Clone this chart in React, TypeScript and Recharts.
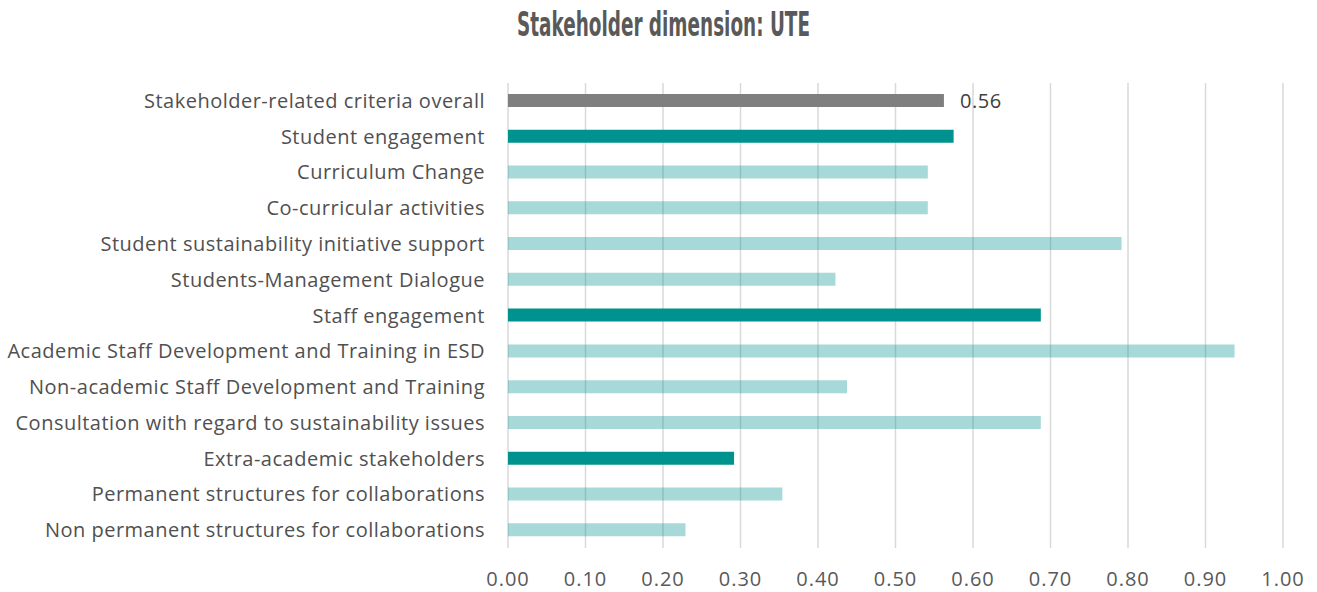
import React from "react";
import { BarChart, Bar, XAxis, YAxis, CartesianGrid, Cell, LabelList } from "recharts";

const categories = [
  "Stakeholder-related criteria overall",
  "Student engagement",
  "Curriculum Change",
  "Co-curricular activities",
  "Student sustainability initiative support",
  "Students-Management Dialogue",
  "Staff engagement",
  "Academic Staff Development and Training in ESD",
  "Non-academic Staff Development and Training",
  "Consultation with regard to sustainability issues",
  "Extra-academic stakeholders",
  "Permanent structures for collaborations",
  "Non permanent structures for collaborations",
];
const values = [0.5625, 0.575, 0.5417, 0.5417, 0.7917, 0.4225, 0.6875, 0.9375, 0.4375, 0.6875, 0.2917, 0.354, 0.229];
// level: 0 overall, 1 group, 2 sub-criterion
const levels = [0, 1, 2, 2, 2, 2, 1, 2, 2, 2, 1, 2, 2];
const xTicks = [0, 0.1, 0.2, 0.3, 0.4, 0.5, 0.6, 0.7, 0.8, 0.9, 1.0];
const title = "Stakeholder dimension: UTE";

const data = categories.map((c, i) => ({ name: c, value: values[i], level: levels[i] }));

const TEAL = "#00928F";
const GREY = "#7F7F7F";

const YTick = (props: any) => {
  const { x, y, payload } = props;
  return (
    <text x={x} y={y} dx={-15} dy={7} textAnchor="end" fontFamily="'Open Sans', sans-serif" fontSize={20} letterSpacing={0.5} fill="#505050">
      {payload.value}
    </text>
  );
};

const XTick = (props: any) => {
  const { x, y, payload } = props;
  return (
    <text x={x} y={y} dy={30} textAnchor="middle" fontFamily="'Open Sans', sans-serif" fontSize={20} letterSpacing={1} fill="#595959">
      {Number(payload.value).toFixed(2)}
    </text>
  );
};

const ValueLabel = (props: any) => {
  const { x, y, width, height, value, index } = props;
  if (index !== 0) return null;
  return (
    <text x={x + width + 16} y={y + height / 2} dy={7} fontFamily="'Open Sans', sans-serif" fontSize={20} letterSpacing={0.6} fill="#404040">
      {Number(value).toFixed(2)}
    </text>
  );
};

export default function App() {
  return (
    <div style={{ position: "absolute", left: 0, top: 0, width: 1317, height: 592, background: "#fff" }}>
      <svg width={1317} height={60} style={{ position: "absolute", left: 0, top: 0 }}>
        <text
          x={663.5}
          y={36}
          textAnchor="middle"
          fontFamily="'DejaVu Sans Condensed', 'DejaVu Sans', sans-serif"
          fontStretch="condensed"
          fontWeight="bold"
          fontSize={34}
          fill="#595959"
          textLength={293}
          lengthAdjust="spacingAndGlyphs"
        >
          {title}
        </text>
      </svg>
      <BarChart
        width={1317}
        height={592}
        data={data}
        layout="vertical"
        margin={{ top: 83, right: 34, bottom: 14, left: 0 }}
        barSize={13}
      >
        <CartesianGrid horizontal={false} vertical={true} stroke="#D9D9D9" strokeWidth={1.5} />
        <XAxis
          type="number"
          domain={[0, 1]}
          ticks={xTicks}
          axisLine={false}
          tickLine={false}
          tick={<XTick />}
          height={30}
          interval={0}
        />
        <YAxis
          type="category"
          dataKey="name"
          width={508}
          axisLine={false}
          tickLine={false}
          tick={<YTick />}
          interval={0}
        />
        <Bar dataKey="value" isAnimationActive={false}>
          {data.map((d, i) => (
            <Cell
              key={i}
              fill={d.level === 0 ? GREY : TEAL}
              fillOpacity={d.level === 2 ? 0.345 : 1}
            />
          ))}
          <LabelList dataKey="value" content={<ValueLabel />} />
        </Bar>
      </BarChart>
    </div>
  );
}
